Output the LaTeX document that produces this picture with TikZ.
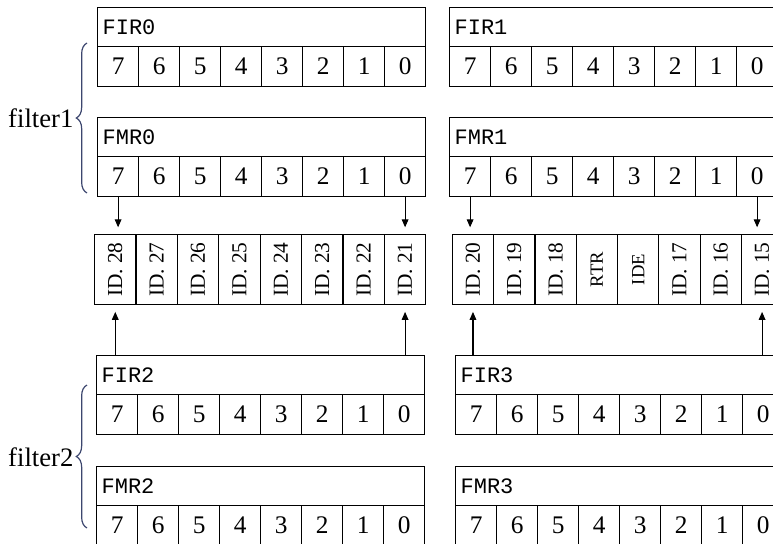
\documentclass[tikz,border=0pt]{standalone}
\usepackage{fontspec}
\usepackage{graphicx}
\setmainfont{Liberation Serif}
\newfontfamily\monof{Liberation Mono}
\usetikzlibrary{arrows.meta,decorations.pathreplacing}
\definecolor{bracecol}{RGB}{60,70,110}
\newcommand{\smalltag}[1]{{\fontsize{14}{14}\selectfont #1}}
\newcommand{\regrow}[4]{%
  \node[titlebox] (#1) at (#3,#4) {#2};
  \foreach \i in {0,...,7}{%
    \pgfmathtruncatemacro{\bb}{7-\i}%
    \node[bitcell] (#1-\bb) at ({#3+\i*41},{#4+39}) {\bb};
  }%
}
\begin{document}
\begin{tikzpicture}[x=0.75pt,y=-0.75pt,
  line width=0.9pt,
  titlebox/.style={draw,anchor=north west,inner xsep=3.75pt,inner ysep=0pt,
    text width=238.5pt,minimum height=29.25pt,align=left,
    font=\monof\fontsize{16.5}{16.5}\selectfont},
  bitcell/.style={draw,anchor=north west,inner sep=0pt,minimum width=30.75pt,
    minimum height=30pt,font=\fontsize{19}{19}\selectfont},
  idcell/.style={draw,anchor=north west,inner sep=0pt,minimum width=31pt,
    minimum height=52.5pt,font=\fontsize{16}{16}\selectfont},
  arr/.style={-{Triangle[length=6pt,width=5pt]},line width=0.8pt,shorten >=5pt},
  brc/.style={draw=bracecol,line width=0.9pt,decorate,
    decoration={brace,amplitude=8pt}},
  flabel/.style={anchor=east,inner sep=0pt,font=\fontsize{20}{20}\selectfont}]
\useasboundingbox (0,0) rectangle (773,543);
\clip (0,0) rectangle (773,543);

\regrow{fir0}{FIR0}{97}{7}
\regrow{fmr0}{FMR0}{97}{117}
\regrow{fir1}{FIR1}{449}{7}
\regrow{fmr1}{FMR1}{449}{117}
\regrow{fir2}{FIR2}{96}{355}
\regrow{fmr2}{FMR2}{96}{466}
\regrow{fir3}{FIR3}{455}{355}
\regrow{fmr3}{FMR3}{455}{466}

\foreach \t [count=\k from 0] in {ID. 28,ID. 27,ID. 26,ID. 25,ID. 24,ID. 23,ID. 22,ID. 21}{
  \node[idcell] (idl\k) at ({94+\k*41.4},234) {\rotatebox{90}{\t}};
}
\foreach \t [count=\k from 0] in {ID. 20,ID. 19,ID. 18,\smalltag{RTR},\smalltag{IDE},ID. 17,ID. 16,ID. 15}{
  \node[idcell] (idr\k) at ({451.7+\k*41.3},234) {\rotatebox{90}{\t}};
}

% down arrows
\draw[arr] (fmr0-7.south) -- (fmr0-7.south |- idl0.north);
\draw[arr] (fmr0-0.south) -- (fmr0-0.south |- idl7.north);
\draw[arr] (fmr1-7.south) -- (fmr1-7.south |- idr0.north);
\draw[arr] (fmr1-0.south) -- (fmr1-0.south |- idr7.north);
% up arrows
\draw[arr] (idl0.south |- fir2.north) -- (idl0.south);
\draw[arr] (idl7.south |- fir2.north) -- (idl7.south);
\draw[arr] (idr0.south |- fir3.north) -- (idr0.south);
\draw[arr] (idr7.south |- fir3.north) -- (idr7.south);

% braces
\coordinate (b1s) at (87,193);
\coordinate (b1e) at (87,43);
\coordinate (b2s) at (87,528);
\coordinate (b2e) at (87,385);
\draw[brc] (b1s) -- (b1e);
\draw[brc] (b2s) -- (b2e);
\node[flabel] (f1) at (74,118) {filter1};
\node[flabel] (f2) at (74,457) {filter2};
\end{tikzpicture}
\end{document}
